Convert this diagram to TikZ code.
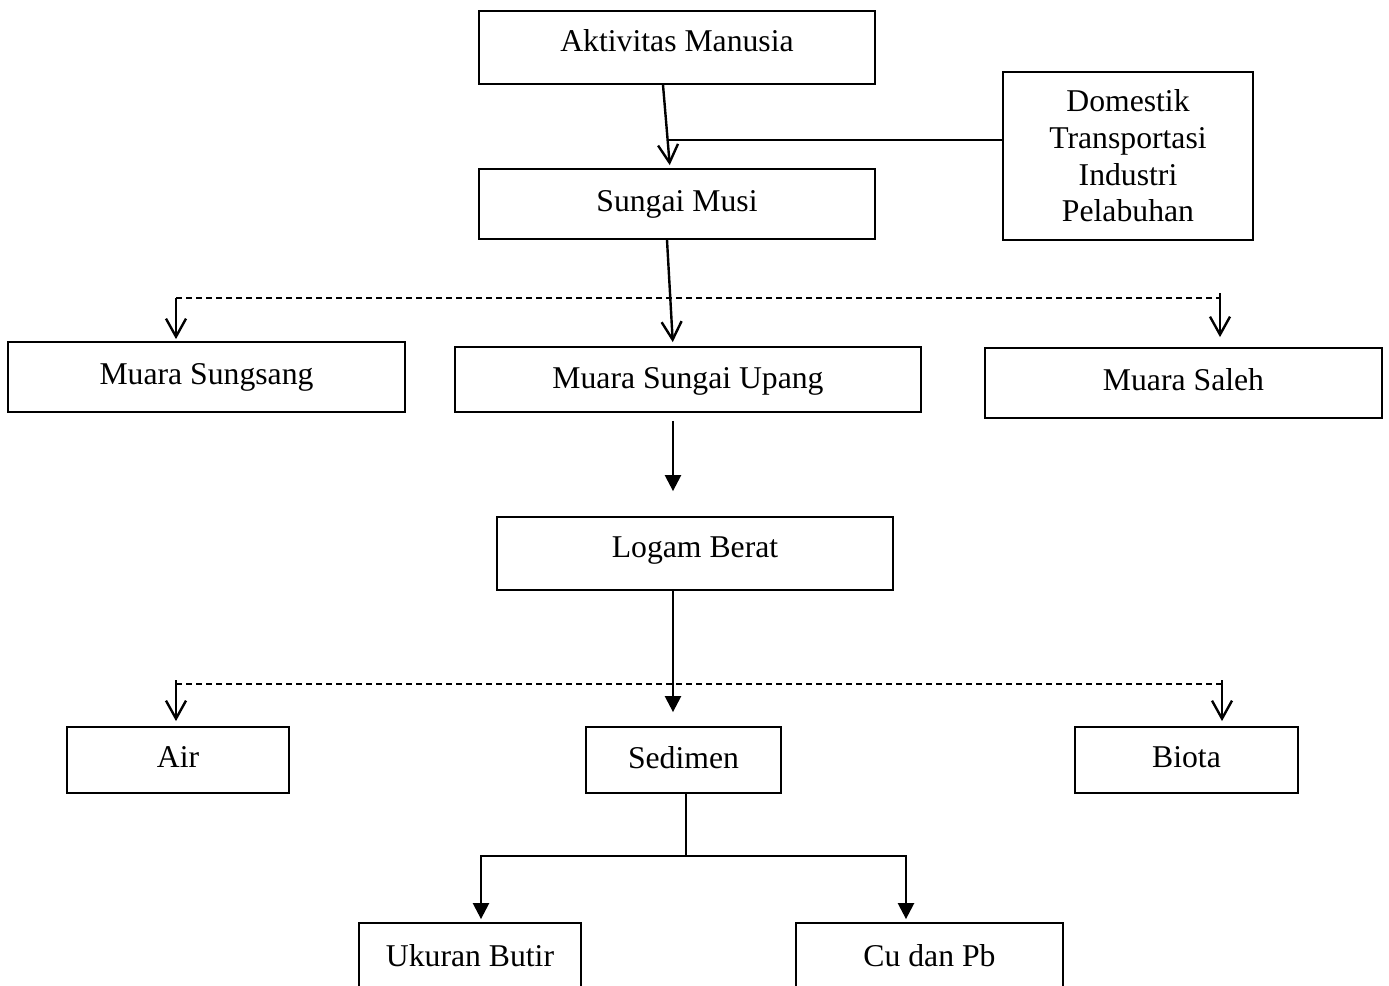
\documentclass[tikz,border=0pt]{standalone}
\usepackage{fontspec}
\setmainfont{Liberation Serif}
\usetikzlibrary{arrows.meta}
\begin{document}
\begin{tikzpicture}[x=0.5pt,y=-0.5pt,
  box/.style={draw,line width=0.9pt,inner sep=0pt,align=center,font=\fontsize{15.85}{18.35}\selectfont},
  openarr/.style={line width=1.2pt,-{Straight Barb[length=9pt,width=10pt,line width=1.2pt]}},
  fillarr/.style={line width=1.2pt,-{Triangle[length=8pt,width=8pt]}},
  dashline/.style={line width=0.9pt,dash pattern=on 3pt off 2pt}]

\useasboundingbox (0,0) rectangle (1389,986);

%boxes, top to bottom
\node[box,minimum width=198pt,minimum height=36.5pt,text depth=7pt] (akt) at (677,47.5) {Aktivitas Manusia};
\node[box,minimum width=125pt,minimum height=84pt] (dom) at (1128,156) {Domestik\\Transportasi\\Industri\\Pelabuhan};
\node[box,minimum width=198pt,minimum height=35pt] (musi) at (677,204) {Sungai Musi};

\node[box,minimum width=198.5pt,minimum height=35pt] (sungsang) at (206.5,377) {Muara Sungsang};
\node[box,minimum width=233pt,minimum height=32.5pt,text depth=1.5pt] (upang) at (688,379.5) {Muara Sungai Upang};
\node[box,minimum width=198.5pt,minimum height=35pt,text depth=4pt] (saleh) at (1183.5,383) {Muara Saleh};

\node[box,minimum width=198pt,minimum height=36.5pt,text depth=6.5pt] (logam) at (695,553.5) {Logam Berat};

\node[box,minimum width=111pt,minimum height=33pt,text depth=3pt] (air) at (178,760) {Air};
\node[box,minimum width=97.5pt,minimum height=33pt,text depth=3pt] (sedimen) at (683.5,760) {Sedimen};
\node[box,minimum width=111.5pt,minimum height=33pt,text depth=3pt] (biota) at (1186.5,760) {Biota};

\node[box,minimum width=111pt,minimum height=33pt] (ukuran) at (470,956) {Ukuran Butir};
\node[box,minimum width=133.5pt,minimum height=33pt] (cu) at (929.5,956) {Cu dan Pb};

%sources into the river
\draw[openarr,shorten >=1.5pt] ([xshift=-7pt]akt.south) -- coordinate[pos=0.667] (j1) ([xshift=-3.5pt]musi.north);
\draw[line width=0.9pt] (j1) -- (j1 -| dom.west);

%river to the three estuaries
\coordinate (d1l) at (176,298);
\coordinate (d1r) at (1220,298);
\draw[dashline] (d1l) -- (d1r);
\draw[openarr,shorten >=2pt] ([xshift=-5pt]musi.south) -- ([xshift=-7.5pt]upang.north);
\draw[openarr,shorten >=1pt] (d1l) -- (d1l |- sungsang.north);
\draw[openarr,shorten >=5pt] ([yshift=2.5pt]d1r) -- (d1r |- saleh.north);

\draw[fillarr,shorten <=4pt,shorten >=12.5pt] ([xshift=-7.5pt]upang.south) -- ([xshift=-7.5pt]upang.south |- logam.north);

%heavy metals into water, sediment, biota
\coordinate (d2l) at (176,684);
\coordinate (d2r) at (1222,684);
\draw[dashline] (d2l) -- (d2r);
\draw[fillarr,shorten >=7pt] ([xshift=-11pt]logam.south) -- ([xshift=-11pt]logam.south |- sedimen.north);
\draw[openarr,shorten >=2.5pt] ([yshift=2pt]d2l) -- (d2l |- air.north);
\draw[openarr,shorten >=2.5pt] ([yshift=2pt]d2r) -- (d2r |- biota.north);

%sediment split
\coordinate (bl) at (481,856);
\coordinate (bright) at (906,856);
\draw[line width=0.9pt] ([xshift=1.25pt]sedimen.south) -- ([xshift=1.25pt]sedimen.south |- bl);
\draw[fillarr,shorten >=1.5pt] (bright) -- (bl) -- (bl |- ukuran.north);
\draw[fillarr,shorten >=1.5pt] (bl) -- (bright) -- (bright |- cu.north);

\end{tikzpicture}
\end{document}
